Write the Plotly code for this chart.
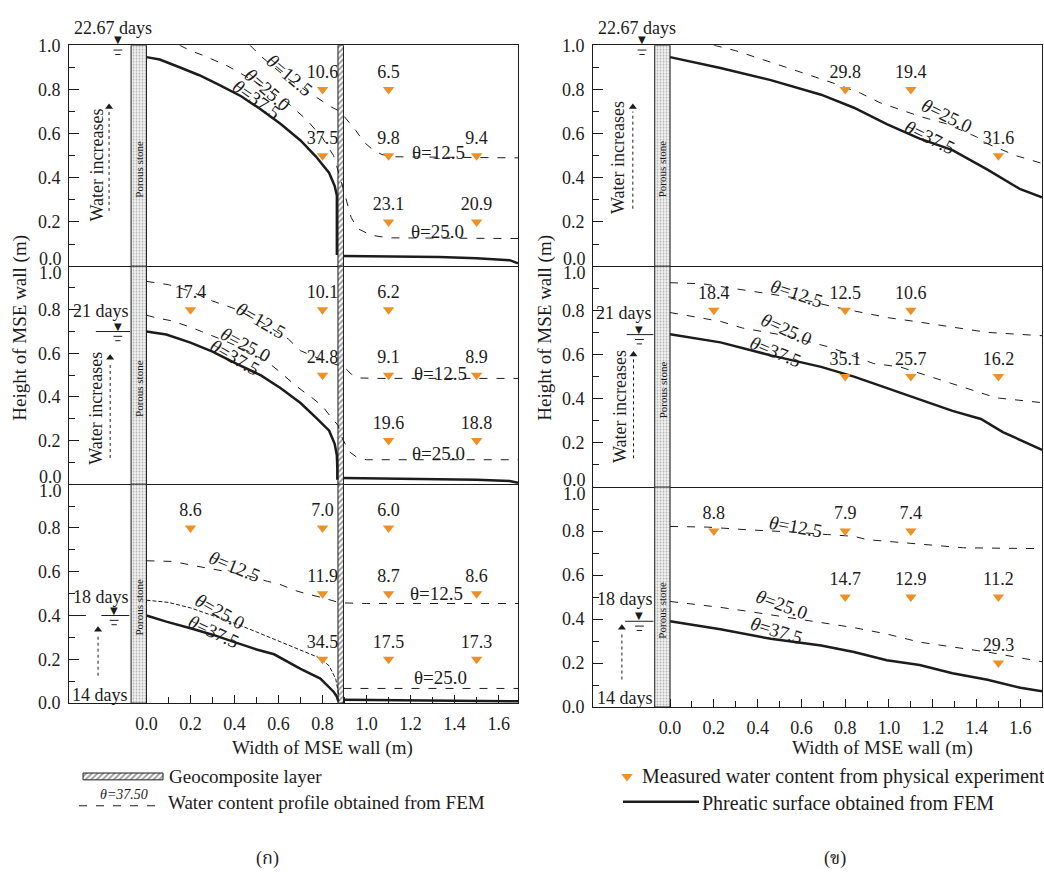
import plotly.graph_objects as go

# ---------------- tick data ----------------
x_tick_vals = [0.0, 0.2, 0.4, 0.6, 0.8, 1.0, 1.2, 1.4, 1.6]
x_tick_text = ["0.0", "0.2", "0.4", "0.6", "0.8", "1.0", "1.2", "1.4", "1.6"]
x_minor_vals = [0.1, 0.3, 0.5, 0.7, 0.9, 1.1, 1.3, 1.5]
y_tick_vals = [0.0, 0.2, 0.4, 0.6, 0.8, 1.0]
y_tick_text = ["0.0", "0.2", "0.4", "0.6", "0.8", "1.0"]
y_minor_vals = [0.1, 0.3, 0.5, 0.7, 0.9]

day_labels = ["22.67 days", "21 days", "18 days"]
start_label = "14 days"

# ---------------- (ก) left panel : with geocomposite ----------------
# row 1 : 22.67 days
L1_phreatic_x = [0.0, 0.06, 0.15, 0.24, 0.33, 0.43, 0.52, 0.61, 0.70, 0.77, 0.83, 0.855, 0.865, 0.865, 0.865]
L1_phreatic_y = [0.946, 0.935, 0.90, 0.864, 0.82, 0.769, 0.709, 0.643, 0.569, 0.496, 0.422, 0.363, 0.32, 0.17, 0.05]
L1_phreatic2_x = [0.895, 1.0, 1.1, 1.2, 1.33, 1.5, 1.6, 1.65, 1.688]
L1_phreatic2_y = [0.046, 0.045, 0.044, 0.042, 0.041, 0.036, 0.032, 0.027, 0.013]
L1_t125_x = [0.47, 0.52, 0.64, 0.76, 0.84, 0.88, 0.925, 0.95, 0.99, 1.03, 1.07, 1.12, 1.688]
L1_t125_y = [1.0, 0.95, 0.85, 0.77, 0.72, 0.70, 0.645, 0.615, 0.56, 0.525, 0.505, 0.495, 0.49]
L1_t250_x = [0.15, 0.2, 0.26, 0.31, 0.37, 0.45, 0.55, 0.64, 0.73, 0.80, 0.85, 0.88, 0.90, 0.93, 0.96, 1.02, 1.1, 1.688]
L1_t250_y = [1.0, 0.975, 0.953, 0.93, 0.905, 0.86, 0.80, 0.74, 0.66, 0.58, 0.50, 0.40, 0.33, 0.22, 0.17, 0.14, 0.128, 0.125]
L1_meas_x = [0.8, 0.8, 1.1, 1.1, 1.5, 1.1, 1.5]
L1_meas_y = [0.8, 0.5, 0.8, 0.5, 0.5, 0.2, 0.2]
L1_meas_v = ["10.6", "37.5", "6.5", "9.8", "9.4", "23.1", "20.9"]

# row 2 : 21 days
L2_phreatic_x = [0.0, 0.09, 0.2, 0.3, 0.41, 0.52, 0.61, 0.70, 0.77, 0.83, 0.855, 0.865, 0.867, 0.867]
L2_phreatic_y = [0.70, 0.686, 0.649, 0.608, 0.552, 0.499, 0.44, 0.372, 0.305, 0.245, 0.185, 0.133, 0.073, 0.02]
L2_phreatic2_x = [0.895, 1.1, 1.3, 1.5, 1.65, 1.688]
L2_phreatic2_y = [0.028, 0.026, 0.024, 0.02, 0.014, 0.006]
L2_t125_x = [0.0, 0.1, 0.2, 0.3, 0.4, 0.52, 0.645, 0.70, 0.78, 0.86, 0.9, 0.93, 0.97, 1.05, 1.688]
L2_t125_y = [0.93, 0.915, 0.885, 0.84, 0.805, 0.745, 0.665, 0.612, 0.578, 0.55, 0.535, 0.505, 0.487, 0.485, 0.485]
L2_t250_x = [0.0, 0.04, 0.12, 0.15, 0.21, 0.25, 0.35, 0.45, 0.55, 0.6, 0.68, 0.76, 0.8, 0.84, 0.87, 0.89, 0.92, 0.96, 1.0, 1.688]
L2_t250_y = [0.775, 0.764, 0.748, 0.738, 0.716, 0.70, 0.66, 0.615, 0.56, 0.52, 0.45, 0.39, 0.357, 0.305, 0.27, 0.21, 0.15, 0.12, 0.112, 0.112]
L2_meas_x = [0.2, 0.8, 0.8, 1.1, 1.1, 1.5, 1.1, 1.5]
L2_meas_y = [0.8, 0.8, 0.5, 0.8, 0.5, 0.5, 0.2, 0.2]
L2_meas_v = ["17.4", "10.1", "24.8", "6.2", "9.1", "8.9", "19.6", "18.8"]

# row 3 : 18 days
L3_phreatic_x = [0.0, 0.09, 0.2, 0.3, 0.41, 0.5, 0.58, 0.70, 0.79, 0.85, 0.865, 0.872]
L3_phreatic_y = [0.40, 0.372, 0.342, 0.3125, 0.275, 0.245, 0.223, 0.156, 0.112, 0.052, 0.03, 0.008]
L3_phreatic2_x = [0.895, 1.3, 1.45, 1.6, 1.688]
L3_phreatic2_y = [0.015, 0.013, 0.012, 0.010, 0.008]
L3_t125_x = [0.0, 0.12, 0.23, 0.35, 0.45, 0.55, 0.6, 0.67, 0.73, 0.79, 0.86, 0.88, 1.0, 1.688]
L3_t125_y = [0.65, 0.647, 0.625, 0.605, 0.585, 0.556, 0.545, 0.516, 0.498, 0.484, 0.462, 0.458, 0.455, 0.455]
L3_t250_x = [0.0, 0.1, 0.2, 0.3, 0.4, 0.5, 0.62, 0.71, 0.79, 0.83, 0.86, 0.875]
L3_t250_y = [0.47, 0.46, 0.435, 0.40, 0.365, 0.325, 0.275, 0.238, 0.205, 0.17, 0.11, 0.03]
L3_t250b_x = [0.895, 1.688]
L3_t250b_y = [0.067, 0.067]
L3_meas_x = [0.2, 0.8, 0.8, 0.8, 1.1, 1.1, 1.5, 1.1, 1.5]
L3_meas_y = [0.8, 0.8, 0.5, 0.2, 0.8, 0.5, 0.5, 0.2, 0.2]
L3_meas_v = ["8.6", "7.0", "11.9", "34.5", "6.0", "8.7", "8.6", "17.5", "17.3"]

# ---------------- (ข) right panel : without geocomposite ----------------
R1_phreatic_x = [0.0, 0.23, 0.46, 0.69, 0.84, 0.99, 1.14, 1.29, 1.45, 1.6, 1.699]
R1_phreatic_y = [0.946, 0.897, 0.842, 0.776, 0.717, 0.643, 0.577, 0.525, 0.437, 0.348, 0.311]
R1_t250_x = [0.2, 0.3, 0.53, 0.64, 0.75, 0.87, 0.96, 1.05, 1.15, 1.26, 1.4, 1.45, 1.58, 1.699]
R1_t250_y = [1.0, 0.975, 0.90, 0.864, 0.827, 0.783, 0.739, 0.709, 0.675, 0.645, 0.585, 0.554, 0.50, 0.465]
R1_meas_x = [0.8, 1.1, 1.5]
R1_meas_y = [0.8, 0.8, 0.5]
R1_meas_v = ["29.8", "19.4", "31.6"]

R2_phreatic_x = [0.0, 0.23, 0.46, 0.69, 0.84, 0.99, 1.14, 1.29, 1.42, 1.52, 1.699]
R2_phreatic_y = [0.692, 0.655, 0.596, 0.544, 0.50, 0.448, 0.397, 0.345, 0.308, 0.249, 0.168]
R2_t125_x = [0.0, 0.15, 0.35, 0.58, 0.75, 0.88, 1.0, 1.11, 1.26, 1.45, 1.699]
R2_t125_y = [0.925, 0.92, 0.89, 0.855, 0.815, 0.788, 0.766, 0.751, 0.729, 0.70, 0.685]
R2_t250_x = [0.0, 0.12, 0.23, 0.33, 0.53, 0.73, 0.93, 1.05, 1.14, 1.37, 1.49, 1.699]
R2_t250_y = [0.79, 0.77, 0.75, 0.72, 0.685, 0.633, 0.559, 0.544, 0.515, 0.441, 0.404, 0.382]
R2_meas_x = [0.2, 0.8, 1.1, 0.8, 1.1, 1.5]
R2_meas_y = [0.8, 0.8, 0.8, 0.5, 0.5, 0.5]
R2_meas_v = ["18.4", "12.5", "10.6", "35.1", "25.7", "16.2"]

R3_phreatic_x = [0.0, 0.23, 0.46, 0.69, 0.84, 0.99, 1.14, 1.29, 1.45, 1.6, 1.699]
R3_phreatic_y = [0.39, 0.354, 0.31, 0.28, 0.25, 0.213, 0.191, 0.154, 0.124, 0.0875, 0.072]
R3_t125_x = [0.0, 0.17, 0.35, 0.57, 0.72, 0.84, 0.9, 1.02, 1.14, 1.34, 1.699]
R3_t125_y = [0.821, 0.818, 0.806, 0.795, 0.784, 0.776, 0.761, 0.75, 0.739, 0.724, 0.72]
R3_t250_x = [0.0, 0.14, 0.23, 0.35, 0.51, 0.69, 0.84, 0.99, 1.14, 1.29, 1.45, 1.699]
R3_t250_y = [0.48, 0.465, 0.453, 0.436, 0.41, 0.384, 0.361, 0.332, 0.295, 0.272, 0.25, 0.206]
R3_meas_x = [0.2, 0.8, 1.1, 0.8, 1.1, 1.5, 1.5]
R3_meas_y = [0.8, 0.8, 0.8, 0.5, 0.5, 0.5, 0.2]
R3_meas_v = ["8.8", "7.9", "7.4", "14.7", "12.9", "11.2", "29.3"]

# contour labels (text, x, y, angle, slanted)
L1_labels = [("θ=12.5", 0.652, 0.864, 40, True), ("θ=25.0", 0.549, 0.80, 41, True), ("θ=37.5", 0.50, 0.755, 35, True),
             ("θ=12.5", 1.326, 0.513, 0, False), ("θ=25.0", 1.32, 0.156, 0, False)]
L2_labels = [("θ=12.5", 0.519, 0.749, 30, True), ("θ=25.0", 0.448, 0.641, 28, True), ("θ=37.5", 0.402, 0.58, 30, True),
             ("θ=12.5", 1.334, 0.507, 0, False), ("θ=25.0", 1.326, 0.14, 0, False)]
L3_labels = [("θ=12.5", 0.40, 0.625, 22, True), ("θ=25.0", 0.334, 0.417, 29, True), ("θ=37.5", 0.304, 0.327, 25, True),
             ("θ=12.5", 1.319, 0.499, 0, False), ("θ=25.0", 1.334, 0.115, 0, False)]
R1_labels = [("θ=25.0", 1.263, 0.68, 26, True), ("θ=37.5", 1.187, 0.581, 26, True)]
R2_labels = [("θ=12.5", 0.578, 0.876, 18, True), ("θ=25.0", 0.533, 0.714, 24, True), ("θ=37.5", 0.48, 0.614, 22, True)]
R3_labels = [("θ=12.5", 0.571, 0.821, 10, True), ("θ=25.0", 0.51, 0.465, 20, True), ("θ=37.5", 0.487, 0.35, 17, True)]

# water table level per row
water_level_L = [1.0, 0.70, 0.40]
water_level_R = [1.0, 0.69, 0.39]

# ---------------- layout geometry ----------------
FONT = "Liberation Serif"
INK = "#1c1c1c"
ORANGE = "#EE9028"
W, H = 1044, 893

col_px = {"L": (69, 518), "R": (593, 1042)}
row_px = {"L": [(36, 262), (262, 485), (485, 709)], "R": [(36, 262), (262, 488), (488, 713)]}
x_range = {"L": [-0.352, 1.688], "R": [-0.352, 1.699]}

panels = {
    "L1": dict(ph=[(L1_phreatic_x, L1_phreatic_y), (L1_phreatic2_x, L1_phreatic2_y)],
               dashed=[(L1_t125_x, L1_t125_y), (L1_t250_x, L1_t250_y)],
               meas=(L1_meas_x, L1_meas_y, L1_meas_v), labels=L1_labels),
    "L2": dict(ph=[(L2_phreatic_x, L2_phreatic_y), (L2_phreatic2_x, L2_phreatic2_y)],
               dashed=[(L2_t125_x, L2_t125_y), (L2_t250_x, L2_t250_y)],
               meas=(L2_meas_x, L2_meas_y, L2_meas_v), labels=L2_labels),
    "L3": dict(ph=[(L3_phreatic_x, L3_phreatic_y), (L3_phreatic2_x, L3_phreatic2_y)],
               dashed=[(L3_t125_x, L3_t125_y), (L3_t250b_x, L3_t250b_y)],
               fine=[(L3_t250_x, L3_t250_y)],
               meas=(L3_meas_x, L3_meas_y, L3_meas_v), labels=L3_labels),
    "R1": dict(ph=[(R1_phreatic_x, R1_phreatic_y)], dashed=[(R1_t250_x, R1_t250_y)],
               meas=(R1_meas_x, R1_meas_y, R1_meas_v), labels=R1_labels),
    "R2": dict(ph=[(R2_phreatic_x, R2_phreatic_y)], dashed=[(R2_t125_x, R2_t125_y), (R2_t250_x, R2_t250_y)],
               meas=(R2_meas_x, R2_meas_y, R2_meas_v), labels=R2_labels),
    "R3": dict(ph=[(R3_phreatic_x, R3_phreatic_y)], dashed=[(R3_t125_x, R3_t125_y), (R3_t250_x, R3_t250_y)],
               meas=(R3_meas_x, R3_meas_y, R3_meas_v), labels=R3_labels),
}

deco = {
    "L1": dict(mark_x=-0.13, wl=water_level_L[0], line=None, day=(day_labels[0], -0.154, 1.08),
               wi=(-0.225, 0.46), arrow=(-0.17, 0.25, 0.72)),
    "L2": dict(mark_x=-0.13, wl=water_level_L[1], line=[-0.23, -0.075], day=(day_labels[1], -0.207, 0.795),
               wi=(-0.23, 0.35), arrow=(-0.165, 0.12, 0.58)),
    "L3": dict(mark_x=-0.147, wl=water_level_L[2], line=[-0.345, -0.275, None, -0.205, -0.078],
               day=(day_labels[2], -0.207, 0.485),
               wi=None, arrow=(-0.22, 0.125, 0.335), start=(start_label, -0.21, 0.035)),
    "R1": dict(mark_x=-0.128, wl=water_level_R[0], line=None, day=(day_labels[0], -0.152, 1.08),
               wi=(-0.237, 0.49), arrow=(-0.17, 0.26, 0.72)),
    "R2": dict(mark_x=-0.14, wl=water_level_R[1], line=[-0.198, -0.076], day=(day_labels[1], -0.21, 0.79),
               wi=(-0.228, 0.363), arrow=(-0.167, 0.13, 0.60)),
    "R3": dict(mark_x=-0.14, wl=water_level_R[2], line=[-0.205, -0.076], day=(day_labels[2], -0.205, 0.49),
               wi=None, arrow=(-0.22, 0.125, 0.36), start=(start_label, -0.205, 0.04)),
}

fig = go.Figure()
annotations = []
layout_axes = {}
tfont = dict(family=FONT, size=18, color=INK)

order = ["L1", "L2", "L3", "R1", "R2", "R3"]
for i, key in enumerate(order):
    n = i + 1
    side, row = key[0], int(key[1]) - 1
    sfx = "" if n == 1 else str(n)
    xa, ya = f"x{sfx}", f"y{sfx}"
    c0, c1 = col_px[side]
    r0, r1 = row_px[side][row]
    bottom = row == 2
    xdict = dict(domain=[c0 / W, c1 / W], range=x_range[side], anchor=ya, showline=True, mirror=(row == 0),
                 linecolor=INK, linewidth=1, showgrid=False, zeroline=False, fixedrange=True)
    if bottom:
        xdict.update(tickmode="array", tickvals=x_tick_vals, ticktext=x_tick_text, ticks="inside", ticklen=8,
                     tickcolor=INK, tickfont=tfont, ticklabelstandoff=4,
                     minor=dict(tickvals=x_minor_vals, ticks="inside", ticklen=6, tickcolor=INK))
    else:
        xdict.update(showticklabels=False, ticks="")
    ttext = list(y_tick_text)
    if row != 2:
        ttext[0] = ""
    if row != 0:
        ttext[-1] = ""
    ydict = dict(domain=[1 - r1 / H, 1 - r0 / H], range=[0, 1], anchor=xa, showline=True, mirror=True,
                 linecolor=INK, linewidth=1, showgrid=False, zeroline=False, fixedrange=True,
                 tickmode="array", tickvals=y_tick_vals, ticktext=ttext, ticks="inside", ticklen=10,
                 tickcolor=INK, ticklabelstandoff=4, tickfont=tfont,
                 minor=dict(tickvals=y_minor_vals, ticks="inside", ticklen=6, tickcolor=INK))
    layout_axes[f"xaxis{sfx}"] = xdict
    layout_axes[f"yaxis{sfx}"] = ydict

    # boundary tick labels moved off the shared edge
    if row != 2:
        annotations.append(dict(text="0.0", xref="paper", yref=ya, x=c0 / W, y=0, xanchor="right", yanchor="middle",
                                xshift=-5, yshift=7, showarrow=False, font=tfont))
    if row != 0:
        annotations.append(dict(text="1.0", xref="paper", yref=ya, x=c0 / W, y=1, xanchor="right", yanchor="middle",
                                xshift=-5, yshift=-7, showarrow=False, font=tfont))

    # porous stone strip
    fig.add_trace(go.Bar(x=[-0.035], y=[1.0], base=[0], width=[0.07], xaxis=xa, yaxis=ya, showlegend=False,
                         hoverinfo="skip",
                         marker=dict(color="white", line=dict(color=INK, width=1),
                                     pattern=dict(shape=".", fgcolor="#707070", bgcolor="#f2f2f2", size=3,
                                                  solidity=0.3))))
    annotations.append(dict(text="Porous stone", x=-0.035, y=0.44, xref=xa, yref=ya, textangle=-90, showarrow=False,
                            font=dict(family=FONT, size=11, color=INK)))
    # geocomposite layer
    if side == "L":
        fig.add_trace(go.Bar(x=[0.8825], y=[1.0], base=[0], width=[0.025], xaxis=xa, yaxis=ya, showlegend=False,
                             hoverinfo="skip",
                             marker=dict(color="white", line=dict(color=INK, width=1),
                                         pattern=dict(shape="/", fgcolor=INK, bgcolor="white", size=4, solidity=0.4))))

    p = panels[key]
    for (dx, dy) in p["dashed"]:
        fig.add_trace(go.Scatter(x=dx, y=dy, mode="lines", xaxis=xa, yaxis=ya, showlegend=False, hoverinfo="skip",
                                 line=dict(color=INK, width=1, dash="8px,9px")))
    for (dx, dy) in p.get("fine", []):
        fig.add_trace(go.Scatter(x=dx, y=dy, mode="lines", xaxis=xa, yaxis=ya, showlegend=False, hoverinfo="skip",
                                 line=dict(color=INK, width=1, dash="4px,2px")))
    for (dx, dy) in p["ph"]:
        fig.add_trace(go.Scatter(x=dx, y=dy, mode="lines", xaxis=xa, yaxis=ya, showlegend=False, hoverinfo="skip",
                                 line=dict(color=INK, width=2.5)))
    mx, my, mv = p["meas"]
    fig.add_trace(go.Scatter(x=mx, y=my, text=mv, mode="markers+text", textposition="top center",
                             textfont=tfont, xaxis=xa, yaxis=ya, showlegend=False,
                             hoverinfo="skip", cliponaxis=False,
                             marker=dict(symbol="triangle-down", size=10, color=ORANGE)))
    for (t, lx, ly, ang, slanted) in p["labels"]:
        txt = t.replace("θ", "<i>θ</i>") if slanted else t
        annotations.append(dict(text=txt, x=lx, y=ly, xref=xa, yref=ya, textangle=ang, showarrow=False,
                                font=dict(family=FONT, size=19, color=INK)))

    # water table symbol, arrows and day labels
    d = deco[key]
    annotations.append(dict(text="▼", x=d["mark_x"], y=d["wl"], xref=xa, yref=f"{ya} domain", xanchor="center",
                            yanchor="bottom", yshift=-2, showarrow=False,
                            font=dict(family="DejaVu Sans", size=10, color=INK)))
    fig.add_trace(go.Scatter(x=[d["mark_x"] - 0.02, d["mark_x"] + 0.02, None, d["mark_x"] - 0.012, d["mark_x"] + 0.012],
                             y=[d["wl"] - 0.022, d["wl"] - 0.022, None, d["wl"] - 0.042, d["wl"] - 0.042],
                             mode="lines", xaxis=xa, yaxis=ya, showlegend=False, hoverinfo="skip",
                             line=dict(color=INK, width=1)))
    if d["line"] is not None:
        fig.add_trace(go.Scatter(x=d["line"], y=[d["wl"] if v is not None else None for v in d["line"]],
                                 mode="lines", xaxis=xa, yaxis=ya, showlegend=False, hoverinfo="skip",
                                 line=dict(color=INK, width=1)))
    ax_, a0, a1 = d["arrow"]
    fig.add_trace(go.Scatter(x=[ax_, ax_], y=[a0, a1 - 0.02], mode="lines", xaxis=xa, yaxis=ya, showlegend=False,
                             hoverinfo="skip", line=dict(color=INK, width=1, dash="3px,3px")))
    fig.add_trace(go.Scatter(x=[ax_], y=[a1], mode="markers", xaxis=xa, yaxis=ya, showlegend=False, hoverinfo="skip",
                             marker=dict(symbol="triangle-up", size=7, color=INK)))
    t, tx, ty = d["day"]
    annotations.append(dict(text=t, x=tx, y=ty, xref=xa, yref=f"{ya} domain", yanchor="middle", showarrow=False,
                            font=tfont))
    if d.get("start"):
        t, tx, ty = d["start"]
        annotations.append(dict(text=t, x=tx, y=ty, xref=xa, yref=f"{ya} domain", yanchor="middle",
                                showarrow=False, font=tfont))
    if d["wi"] is not None:
        annotations.append(dict(text="Water increases", x=d["wi"][0], y=d["wi"][1], xref=xa, yref=ya, textangle=-90,
                                showarrow=False, font=tfont))

# axis titles
for cx in (20, 545):
    annotations.append(dict(text="Height of MSE wall (m)", x=cx / W, y=1 - 325 / H, xref="paper", yref="paper",
                            xanchor="center", yanchor="middle", textangle=-90, showarrow=False,
                            font=dict(family=FONT, size=19, color=INK)))
for cx in (322, 882):
    annotations.append(dict(text="Width of MSE wall (m)", x=cx / W, y=1 - 755 / H, xref="paper", yref="paper",
                            xanchor="center", yanchor="middle", showarrow=False,
                            font=dict(family=FONT, size=19, color=INK)))

# ---------------- legend (helper axes in pixel units) ----------------
leg_top = 759.05
layout_axes["xaxis7"] = dict(domain=[0, 1], range=[0, W], visible=False, fixedrange=True, anchor="y7")
layout_axes["yaxis7"] = dict(domain=[0, (H - leg_top) / H], range=[H, leg_top], visible=False, fixedrange=True,
                             anchor="x7")
fig.add_trace(go.Bar(orientation="h", y=[784], x=[80], base=[83], width=[7], xaxis="x7", yaxis="y7",
                     showlegend=False, hoverinfo="skip",
                     marker=dict(color="white", line=dict(color=INK, width=1),
                                 pattern=dict(shape="/", fgcolor=INK, bgcolor="white", size=4, solidity=0.4))))
fig.add_trace(go.Scatter(x=[79, 164], y=[814, 814], mode="lines", xaxis="x7", yaxis="y7", showlegend=False,
                         hoverinfo="skip", line=dict(color=INK, width=1, dash="8px,9px")))
fig.add_trace(go.Scatter(x=[627], y=[784], mode="markers", xaxis="x7", yaxis="y7", showlegend=False,
                         hoverinfo="skip", marker=dict(symbol="triangle-down", size=10, color=ORANGE)))
fig.add_trace(go.Scatter(x=[623, 699], y=[810, 810], mode="lines", xaxis="x7", yaxis="y7", showlegend=False,
                         hoverinfo="skip", line=dict(color=INK, width=2.5)))
leg_texts = [("Geocomposite layer", 167, 784, 19), ("Water content profile obtained from FEM", 166, 811, 19),
             ("Measured water content from physical experiment", 640, 784, 20),
             ("Phreatic surface obtained from FEM", 700, 811, 20)]
for t, tx, ty, fs in leg_texts:
    annotations.append(dict(text=t, x=tx, y=ty, xref="x7", yref="y7", xanchor="left", yanchor="middle",
                            showarrow=False, font=dict(family=FONT, size=fs, color=INK)))
annotations.append(dict(text="<i>θ=37.50</i>", x=124, y=802, xref="x7", yref="y7", showarrow=False,
                        font=dict(family=FONT, size=14, color=INK)))
for t, tx in (("(ก)", 267), ("(ข)", 835)):
    annotations.append(dict(text=t, x=tx, y=868, xref="x7", yref="y7", showarrow=False,
                            font=dict(family="Liberation Serif, Noto Serif Thai, Noto Sans Thai, serif",
                                      size=18, color=INK)))

fig.update_layout(width=W, height=H, margin=dict(l=0, r=0, t=0, b=0), paper_bgcolor="white",
                  plot_bgcolor="rgba(0,0,0,0)", barmode="overlay", showlegend=False,
                  font=dict(family=FONT, color=INK),
                  annotations=annotations, **layout_axes)
fig.write_html("out.html", config={"displayModeBar": False},
               post_script="document.body.style.margin='0px';document.body.style.overflow='hidden';")
